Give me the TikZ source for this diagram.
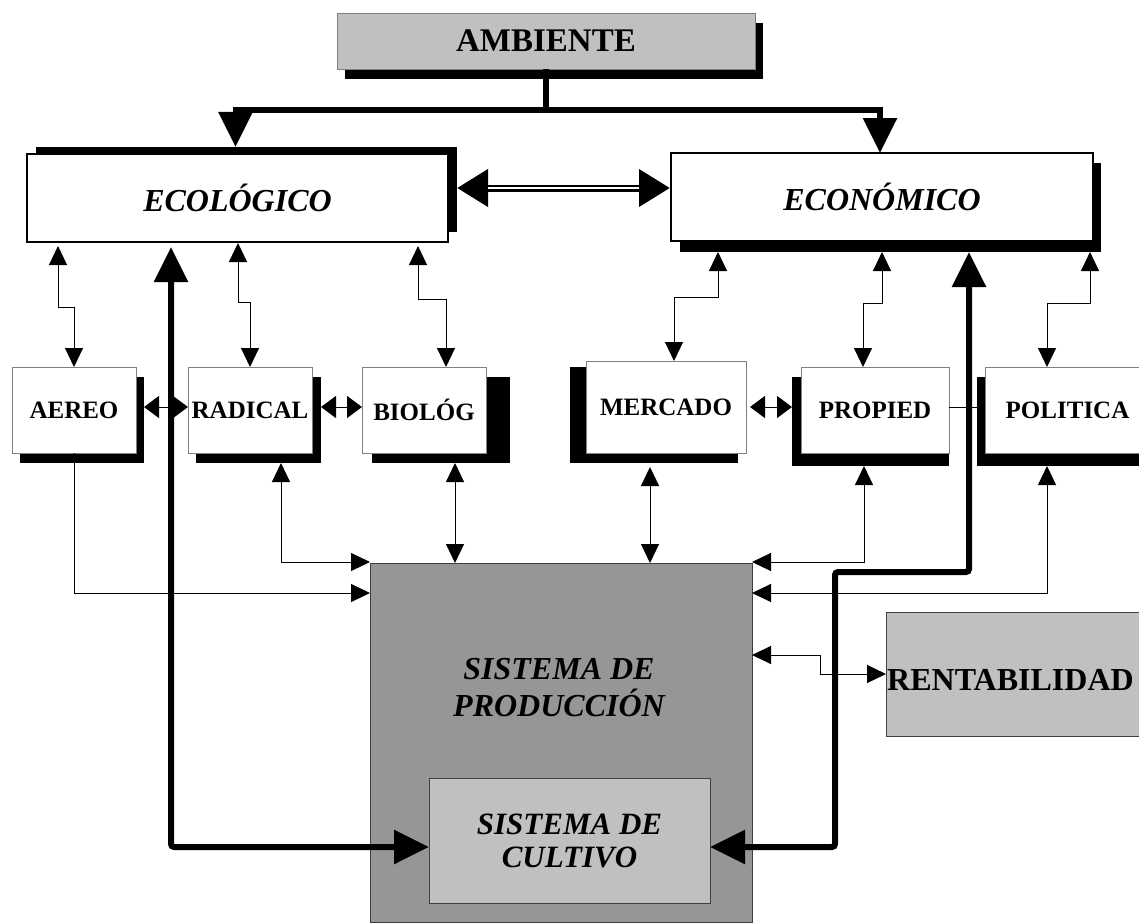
\documentclass[tikz,border=0pt]{standalone}
\usepackage{fontspec}
\setmainfont{Liberation Serif}
\usetikzlibrary{arrows.meta,backgrounds}
\definecolor{boxgray}{HTML}{C0C0C0}
\definecolor{prodgray}{HTML}{969696}
\definecolor{edgegray}{HTML}{7F7F7F}
\definecolor{darkedge}{HTML}{3F3F3F}
\tikzset{
  Sm/.tip={Triangle[length=19pt,width=18pt]},
  Md/.tip={Triangle[length=15pt,width=22pt]},
  Bg/.tip={Triangle[length=35pt,width=33pt]},
  Dbl/.tip={Triangle[length=31pt,width=36pt]},
  box/.style={rectangle, anchor=north west, inner sep=0pt, outer sep=0pt,
    fill=white, draw=edgegray, line width=0.8pt,
    font=\bfseries\fontsize{25}{30}\selectfont, align=center},
  bigbox/.style={box, draw=black, line width=2.5pt,
    font=\bfseries\itshape\fontsize{32}{38}\selectfont},
  link/.style={line width=1pt},
  trunk/.style={line width=6pt},
}
% black offset shadow behind a box: node, shift of its north west, shift of its south east
\newcommand\castshadow[5]{\fill ([shift={(#2,#3)}]#1.north west) rectangle ([shift={(#4,#5)}]#1.south east);}

\begin{document}
\begin{tikzpicture}[x=1pt,y=-1pt]
\useasboundingbox (0,0) rectangle (1139,923);

% ---- boxes ----
\node[box, fill=boxgray, minimum width=418pt, minimum height=56pt,
      font=\bfseries\fontsize{33}{40}\selectfont] (amb) at (337,13) {AMBIENTE};
\node[bigbox, minimum width=421pt, minimum height=88pt] (eco) at (27,154) {ECOLÓGICO};
\node[bigbox, minimum width=422pt, minimum height=88pt] (econ) at (671,153) {ECONÓMICO};

\node[box, minimum width=124pt, minimum height=86pt] (aereo) at (12,367) {AEREO};
\node[box, minimum width=124pt, minimum height=86pt] (radical) at (188,367) {RADICAL};
\node[box, minimum width=124pt, minimum height=86pt] (biolog) at (362,367) {BIOLÓG};
\node[box, minimum width=160pt, minimum height=92pt] (mercado) at (586,361) {MERCADO};
\node[box, minimum width=148pt, minimum height=86pt] (propied) at (801,367) {PROPIED};
\node[box, minimum width=165pt, minimum height=86pt] (politica) at (985,367) {POLITICA};

\node[box, fill=prodgray, draw=darkedge, line width=1pt,
      minimum width=382pt, minimum height=359pt] (sistema) at (370,563) {};
\node[font=\bfseries\itshape\fontsize{32}{37}\selectfont, align=center, inner sep=0pt]
      (prodtxt) at (559,688) {SISTEMA DE\\PRODUCCIÓN};
\node[box, fill=boxgray, draw=darkedge, line width=1pt,
      minimum width=281pt, minimum height=125pt,
      font=\bfseries\itshape\fontsize{31}{33}\selectfont] (cultivo) at (429,778) {SISTEMA DE\\CULTIVO};
\node[box, fill=boxgray, draw=darkedge, line width=1pt,
      minimum width=264pt, minimum height=124pt] (rentab) at (886,612) {};
\node[anchor=west, inner sep=0pt, font=\bfseries\fontsize{32}{38}\selectfont]
      (rentxt) at (887,680) {RENTABILIDAD};

% ---- shadows ----
\begin{scope}[on background layer]
  \castshadow{amb}{8}{10}{8}{10}
  \castshadow{eco}{9}{-7}{9}{-10}
  \castshadow{econ}{9}{10}{8}{11}
  \castshadow{aereo}{8}{10}{8}{10}
  \castshadow{radical}{8}{10}{9}{10}
  \castshadow{biolog}{10}{10}{24}{10}
  \castshadow{mercado}{-16}{6}{-8}{10}
  \castshadow{propied}{-9}{10}{0}{13}
  \castshadow{politica}{-8}{10}{0}{13}
\end{scope}

% ---- AMBIENTE feeds both domains ----
\draw[trunk, -Bg] (amb.south) -- ++(0,41) -| ([shift={(-2,-7)}]eco.north);
\draw[trunk, -Bg] (amb.south) -- ++(0,41) -| ([shift={(-2,0)}]econ.north);

% ---- double link between the two domains ----
\draw[line width=7pt, Dbl-Dbl] ([shift={(9,-10)}]eco.east) -- ([shift={(-1,-9)}]econ.west);
\draw[white, line width=2.5pt] ([shift={(40,-10)}]eco.east) -- ([shift={(-32,-9)}]econ.west);

% ---- domains to their components ----
\draw[link, Sm-Sm] ([shift={(31,4)}]eco.south west) |- ([shift={(0,-60)}]aereo.north) -- (aereo.north);
\draw[link, Sm-Sm] ([shift={(211,1)}]eco.south west) |- ([shift={(0,-65)}]radical.north) -- (radical.north);
\draw[link, Sm-Sm] ([shift={(391,4)}]eco.south west) |- ([shift={(22,-68)}]biolog.north) -- ([shift={(22,0)}]biolog.north);
\draw[link, Sm-Sm] ([shift={(47,11)}]econ.south west) |- ([shift={(8,-64)}]mercado.north) -- ([shift={(8,0)}]mercado.north);
\draw[link, Sm-Sm] ([shift={(211,11)}]econ.south west) |- ([shift={(-12,-64)}]propied.north) -- ([shift={(-12,0)}]propied.north);
\draw[link, Sm-Sm] ([shift={(419,11)}]econ.south west) |- ([shift={(-20.5,-64)}]politica.north) -- ([shift={(-20.5,0)}]politica.north);

% ---- links between components ----
\draw[link, Md-Md] ([shift={(8,-3)}]aereo.east) -- ([shift={(0,-3)}]radical.west);
\draw[link, Md-Md] ([shift={(9,-3)}]radical.east) -- ([shift={(0,-3)}]biolog.west);
\draw[link, Md-Md] ([shift={(4,0)}]mercado.east) -- ([shift={(-9,-3)}]propied.west);
\draw[link] ([shift={(0,-3)}]propied.east) -- ([shift={(-8,-3)}]politica.west);

% ---- components to the production system ----
\draw[link, -Sm] (aereo.south) |- ([shift={(0,30)}]sistema.north west);
\draw[link, Sm-Sm] ([shift={(31,10)}]radical.south) |- ([shift={(0,-1)}]sistema.north west);
\draw[link, Sm-Sm] ([shift={(31,10)}]biolog.south) -- ([shift={(85,0)}]sistema.north west);
\draw[link, Sm-Sm] ([shift={(-16,14)}]mercado.south) -- ([shift={(280,0)}]sistema.north west);
\draw[link, Sm-Sm] ([shift={(-11,13)}]propied.south) |- ([shift={(0,-1)}]sistema.north east);
\draw[link, Sm-Sm] ([shift={(-20.5,13)}]politica.south) |- ([shift={(0,30)}]sistema.north east);
\draw[link, Sm-Sm] ([shift={(0,-87.5)}]sistema.east) -| ([shift={(-66,0)}]rentab.west) -- (rentab.west);

% ---- domains to the crop system ----
\draw[trunk, rounded corners=3pt, Bg-Bg] ([shift={(144,5)}]eco.south west)
      |- ([shift={(0,6.5)}]cultivo.west);
\draw[trunk, rounded corners=3pt, Bg-Bg] ([shift={(298,11)}]econ.south west)
      -- ++(0,320) -| ([shift={(125,6.5)}]cultivo.east) -- ([shift={(0,6.5)}]cultivo.east);
\end{tikzpicture}
\end{document}
